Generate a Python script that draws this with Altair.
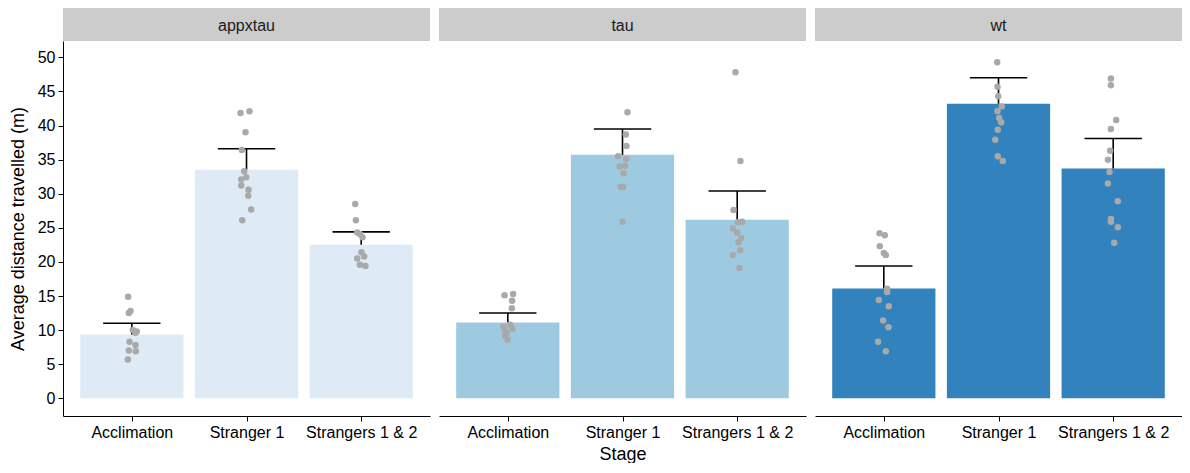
import json
import altair as alt
import pandas as pd

# ---------------- data ----------------
genotypes = ["appxtau", "tau", "wt"]
stages = ["Acclimation", "Stranger 1", "Strangers 1 & 2"]
bar_colors = ["#deebf7", "#9ecae1", "#3182bd"]

means_appxtau = [9.37, 33.5, 22.5]
means_tau = [11.1, 35.7, 26.2]
means_wt = [16.1, 43.2, 33.7]

upper_appxtau = [11.0, 36.6, 24.4]
upper_tau = [12.5, 39.5, 30.4]
upper_wt = [19.4, 47.0, 38.1]

# individual animals (value) and horizontal jitter (px at the reference scale)
appxtau_acc = [14.9, 12.8, 12.5, 10.0, 9.8, 9.6, 8.3, 7.8, 7.0, 6.9, 5.7]
appxtau_acc_jit = [-3.7, -1.3, -3, 1, 5, 3.7, -2.3, 3.7, -3, 4, -4]
appxtau_s1 = [41.85, 42.1, 39.0, 36.4, 33.3, 32.1, 32.4, 31.2, 30.6, 29.7, 27.7, 26.1]
appxtau_s1_jit = [-6, 3, -1, -4.7, -2.3, -5.3, -0.3, -5.3, 2, 1.7, 4.7, -4.3]
appxtau_s12 = [28.5, 26.1, 24.3, 24.1, 23.6, 21.4, 20.8, 20.5, 19.6, 19.4]
appxtau_s12_jit = [-6, -5.3, -4, -1.3, 1.3, 0.3, 3, -4, -1.3, 4.3]

tau_acc = [15.1, 15.3, 14.3, 13.2, 10.8, 10.5, 10.2, 9.8, 9.5, 9.2, 8.6]
tau_acc_jit = [-3.3, 5.3, 4.3, 4, 2.3, -4.3, 4.7, -2.3, -1, -2.7, -0.3]
tau_s1 = [41.95, 38.7, 37.0, 35.5, 35.1, 34.0, 34.1, 33.0, 31.0, 31.0, 25.9]
tau_s1_jit = [5, 3.3, 4, -4.3, 3.7, -2.7, 2.7, 1, -2, 0.7, 0]
tau_s12 = [47.8, 34.8, 27.6, 25.8, 25.9, 24.9, 24.3, 23.5, 22.9, 21.7, 21.0, 19.1]
tau_s12_jit = [-1.7, 3.3, -3.7, 0.7, 5, -4.3, 0, 4, 1.3, 3, -4.3, 2.3]

wt_acc = [24.2, 23.9, 22.3, 21.3, 21.0, 16.05, 15.6, 14.4, 13.5, 11.4, 10.4, 8.3, 6.9]
wt_acc_jit = [-4.3, 1, -4, 0, 2, 3.3, 3.3, -5, 5, -0.7, 4.7, -5.7, 2]
wt_s1 = [49.3, 45.7, 44.3, 42.8, 42.1, 41.1, 40.5, 39.4, 37.9, 35.5, 34.8]
wt_s1_jit = [-1.3, -1, -0.3, 3.3, -1, 0.7, 2.7, -0.7, -3.3, -0.7, 4.3]
wt_s12 = [46.9, 45.9, 40.8, 39.5, 36.3, 35.0, 33.2, 31.5, 28.9, 26.3, 25.9, 25.1, 22.8]
wt_s12_jit = [-2.3, -2.3, 3, -2.3, -3, -5.3, -3.7, -5.3, 4.7, -2.3, -2.3, 4.7, 1]

y_ticks = [0, 5, 10, 15, 20, 25, 30, 35, 40, 45, 50]

means = [means_appxtau, means_tau, means_wt]
uppers = [upper_appxtau, upper_tau, upper_wt]
points = [
    [(appxtau_acc, appxtau_acc_jit), (appxtau_s1, appxtau_s1_jit), (appxtau_s12, appxtau_s12_jit)],
    [(tau_acc, tau_acc_jit), (tau_s1, tau_s1_jit), (tau_s12, tau_s12_jit)],
    [(wt_acc, wt_acc_jit), (wt_s1, wt_s1_jit), (wt_s12, wt_s12_jit)],
]

# ---------------- layout ----------------
PW, PH, SH = 367, 375, 33
REF_STEP_PX = 369 / 3.2
FONT = "Liberation Sans"

label_expr = "%s[datum.value]" % json.dumps(stages)
x_scale = alt.Scale(domain=[-0.6, 2.6], nice=False, zero=False)
y_scale = alt.Scale(domain=[-2.6, 52.4], nice=False, zero=False)


def panel(i):
    g = genotypes[i]
    bars = pd.DataFrame({
        "stage": stages,
        "idx": [0, 1, 2],
        "lo": [k - 0.45 for k in range(3)],
        "hi": [k + 0.45 for k in range(3)],
        "elo": [k - 0.25 for k in range(3)],
        "ehi": [k + 0.25 for k in range(3)],
        "mean": means[i],
        "upper": uppers[i],
        "zero": [0, 0, 0],
    })
    rows = []
    for k, (vals, jit) in enumerate(points[i]):
        for v, j in zip(vals, jit):
            rows.append({"stage": stages[k], "xpos": k + j / REF_STEP_PX, "value": v})
    pts = pd.DataFrame(rows)

    xaxis = alt.Axis(values=[0, 1, 2], labelExpr=label_expr, grid=False,
                     title="Stage" if i == 1 else None, titleFontSize=18,
                     titleFontWeight="normal", titlePadding=5,
                     labelFontSize=16, tickSize=5, labelPadding=3,
                     domainColor="black", tickColor="black", labelColor="black",
                     titleColor="black", labelFlush=False)
    if i == 0:
        yaxis = alt.Axis(values=y_ticks, grid=False, title="Average distance travelled (m)",
                         titleFontSize=18, titleFontWeight="normal", titlePadding=10,
                         labelFontSize=16, tickSize=5, labelPadding=3,
                         domainColor="black", tickColor="black", labelColor="black",
                         titleColor="black")
    else:
        yaxis = None

    base = alt.Chart(bars)
    b = base.mark_rect(color=bar_colors[i]).encode(
        x=alt.X("lo:Q", scale=x_scale, axis=xaxis),
        x2="hi",
        y=alt.Y("zero:Q", scale=y_scale, axis=yaxis),
        y2="mean",
    )
    ev = base.mark_rule(color="black", strokeWidth=1.6).encode(
        x=alt.X("idx:Q", scale=x_scale, axis=xaxis),
        y=alt.Y("mean:Q", scale=y_scale, axis=yaxis), y2="upper")
    eh = base.mark_rule(color="black", strokeWidth=1.6).encode(
        x=alt.X("elo:Q", scale=x_scale, axis=xaxis), x2="ehi",
        y=alt.Y("upper:Q", scale=y_scale, axis=yaxis))
    p = alt.Chart(pts).mark_circle(color="#a9a9a9", opacity=1, size=42).encode(
        x=alt.X("xpos:Q", scale=x_scale, axis=xaxis),
        y=alt.Y("value:Q", scale=y_scale, axis=yaxis))
    main = alt.layer(b, ev, eh, p).properties(width=PW, height=PH)

    strip_df = pd.DataFrame({"g": [g]})
    sb = alt.Chart(strip_df).mark_rect(color="#cccccc").encode(
        x=alt.value(0), x2=alt.value(PW), y=alt.value(0), y2=alt.value(SH))
    st = alt.Chart(strip_df).mark_text(fontSize=16, color="#1a1a1a", font=FONT).encode(
        text="g:N", x=alt.value(PW / 2), y=alt.value(SH / 2 + 1))
    strip = alt.layer(sb, st).properties(width=PW, height=SH)

    return alt.vconcat(strip, main, spacing=0)


chart = alt.hconcat(*[panel(i) for i in range(3)], spacing=9).properties(
    padding={"left": 1, "top": 0, "right": 0, "bottom": 0}
).configure(font=FONT).configure_view(stroke="transparent", strokeWidth=0)

chart.save("out.html", embed_options={"renderer": "svg", "actions": False})
